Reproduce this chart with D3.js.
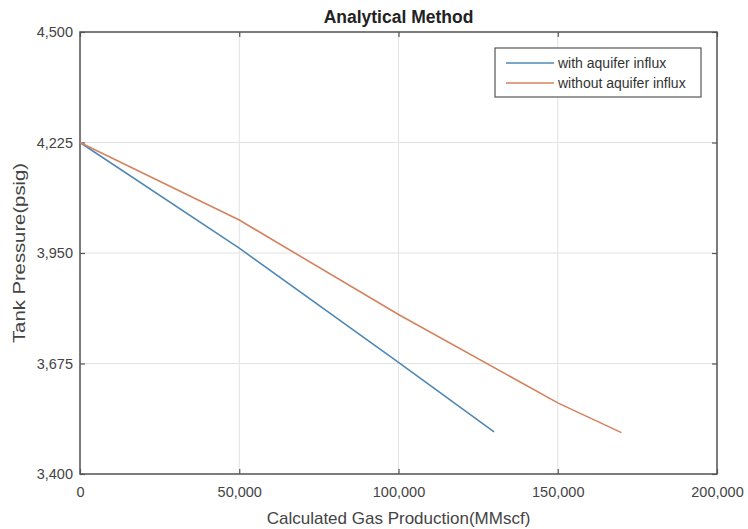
<!DOCTYPE html>
<html><head><meta charset="utf-8">
<script src="https://cdn.jsdelivr.net/npm/d3@7"></script>
<style>body{margin:0;background:#fff;} text{font-family:Arial,"Liberation Sans",sans-serif;}</style>
</head><body>
<svg id="c" width="748" height="529"></svg>
<script>
const title = "Analytical Method";
const xLabel = "Calculated Gas Production(MMscf)";
const yLabel = "Tank Pressure(psig)";
const xTicks = [0, 50000, 100000, 150000, 200000];
const yTicks = [3400, 3675, 3950, 4225, 4500];
const withX = [0, 50000, 100000, 130000];
const withY = [4225, 3962, 3678, 3505];
const withoutX = [0, 50000, 100000, 150000, 170000];
const withoutY = [4225, 4032, 3797, 3577, 3503];
const seriesNames = ["with aquifer influx", "without aquifer influx"];
const colors = ["#4f88b4", "#d4835f"];

const svg = d3.select("#c");
const m = {l:80, r:31, t:32, b:55};
const W = 748, H = 529;
const x = d3.scaleLinear().domain([0, 200000]).range([m.l, W - m.r]);
const y = d3.scaleLinear().domain([3400, 4500]).range([H - m.b, m.t]);
const fmt = d3.format(",");

// grid
svg.append("g").selectAll("line").data(xTicks).join("line")
  .attr("x1", d => x(d)).attr("x2", d => x(d)).attr("y1", m.t).attr("y2", H - m.b)
  .attr("stroke", "#e2e2e2").attr("stroke-width", 1);
svg.append("g").selectAll("line").data(yTicks).join("line")
  .attr("x1", m.l).attr("x2", W - m.r).attr("y1", d => y(d)).attr("y2", d => y(d))
  .attr("stroke", "#e2e2e2").attr("stroke-width", 1);

// axes
const axStyle = g => {
  g.select(".domain").remove();
  g.selectAll("line").attr("stroke", "#555").attr("stroke-width", 1.2);
  g.selectAll("text").attr("fill", "#444").attr("font-size", 14.5);
};
svg.append("g").attr("transform", `translate(0,${H - m.b})`)
  .call(d3.axisBottom(x).tickValues(xTicks).tickFormat(fmt).tickSizeInner(-5).tickSizeOuter(0).tickPadding(13))
  .call(axStyle);
svg.append("g").attr("transform", `translate(0,${m.t})`)
  .call(d3.axisTop(x).tickValues(xTicks).tickFormat("").tickSizeInner(-5).tickSizeOuter(0))
  .call(axStyle);
svg.append("g").attr("transform", `translate(${m.l},0)`)
  .call(d3.axisLeft(y).tickValues(yTicks).tickFormat(fmt).tickSizeInner(-5).tickSizeOuter(0).tickPadding(7))
  .call(axStyle);
svg.append("g").attr("transform", `translate(${W - m.r},0)`)
  .call(d3.axisRight(y).tickValues(yTicks).tickFormat("").tickSizeInner(-5).tickSizeOuter(0))
  .call(axStyle);

// box
svg.append("rect").attr("x", m.l).attr("y", m.t).attr("width", W - m.r - m.l).attr("height", H - m.b - m.t)
  .attr("fill", "none").attr("stroke", "#555").attr("stroke-width", 1.5);

// lines
const line = d3.line().x(d => x(d[0])).y(d => y(d[1]));
const series = [d3.zip(withX, withY), d3.zip(withoutX, withoutY)];
series.forEach((s, i) => {
  svg.append("path").datum(s).attr("d", line).attr("fill", "none")
    .attr("stroke", colors[i]).attr("stroke-width", 1.6);
});

// legend
const lg = svg.append("g");
lg.append("rect").attr("x", 495).attr("y", 48).attr("width", 206).attr("height", 49)
  .attr("fill", "#fff").attr("stroke", "#555").attr("stroke-width", 1.2);
seriesNames.forEach((n, i) => {
  const yy = 63 + i * 20;
  lg.append("line").attr("x1", 506).attr("x2", 554).attr("y1", yy).attr("y2", yy)
    .attr("stroke", colors[i]).attr("stroke-width", 1.6);
  lg.append("text").attr("x", 558).attr("y", yy + 5).attr("font-size", 14).attr("fill", "#333").text(n);
});

// title and labels
svg.append("text").attr("x", (m.l + W - m.r) / 2).attr("y", 23).attr("text-anchor", "middle")
  .attr("font-size", 17.5).attr("font-weight", "bold").attr("fill", "#222").text(title);
svg.append("text").attr("x", (m.l + W - m.r) / 2).attr("y", 524).attr("text-anchor", "middle")
  .attr("font-size", 17).attr("fill", "#444").text(xLabel);
svg.append("text").attr("transform", `translate(25,${(m.t + H - m.b) / 2}) rotate(-90)`)
  .attr("text-anchor", "middle").attr("font-size", 17).attr("fill", "#444")
  .attr("textLength", 180).attr("lengthAdjust", "spacingAndGlyphs").text(yLabel);
</script>
</body></html>
